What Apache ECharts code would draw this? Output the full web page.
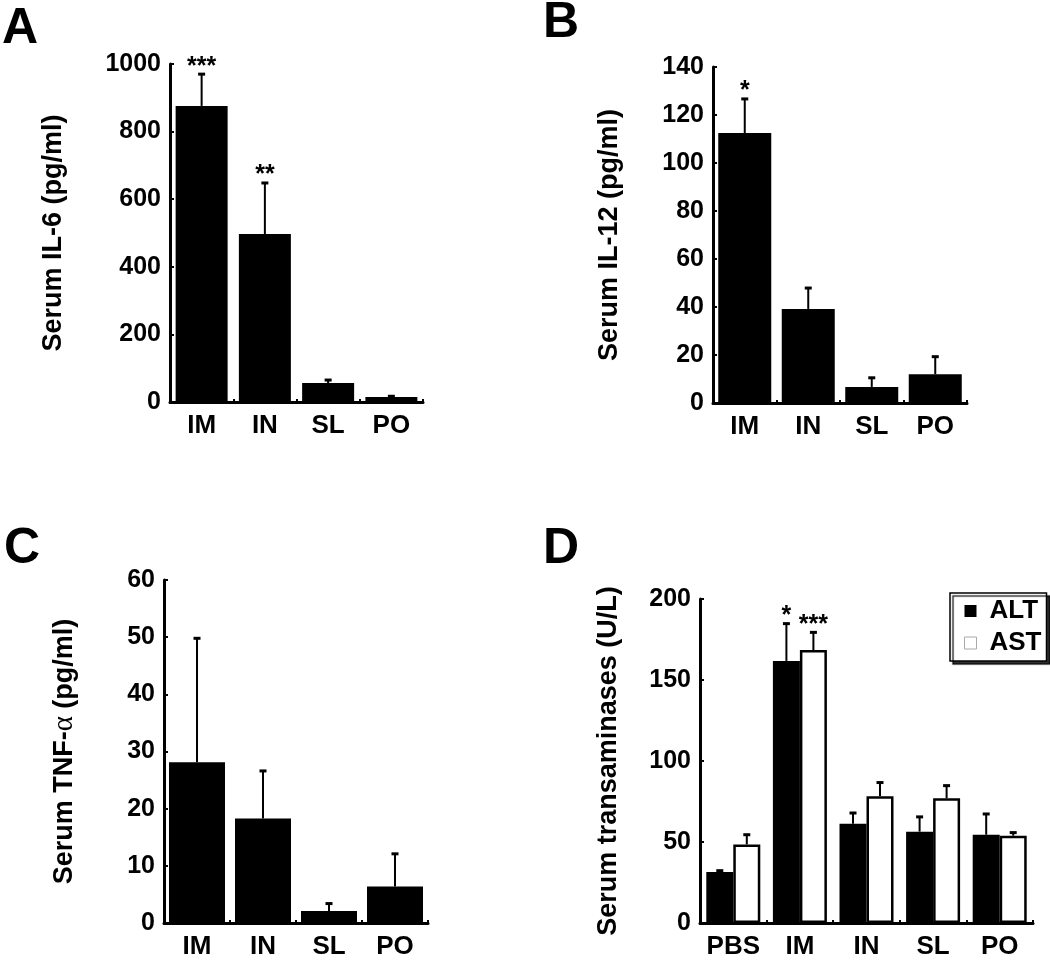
<!DOCTYPE html>
<html>
<head>
<meta charset="utf-8">
<script src="https://cdn.jsdelivr.net/npm/echarts@6/dist/echarts.min.js"></script>
<style>html,body{margin:0;padding:0;background:#fff}#c{width:1050px;height:960px}</style>
</head>
<body>
<div id="c"></div>
<script>
// ---- data ----
const routeCats = ['IM', 'IN', 'SL', 'PO'];
const il6Mean = [876, 497, 56, 15];
const il6Err = [970, 648, 65, 17];
const il6Sig = ['***', '**', '', ''];

const il12Mean = [112.5, 39.2, 6.7, 12.0];
const il12Err = [126.7, 47.9, 10.5, 19.3];
const il12Sig = ['*', '', '', ''];

const tnfMean = [28.1, 18.3, 2.1, 6.4];
const tnfErr = [49.8, 26.6, 3.4, 12.1];
const tnfSig = ['', '', '', ''];

const transCats = ['PBS', 'IM', 'IN', 'SL', 'PO'];
const altMean = [31.5, 161.8, 61.2, 56.4, 54.5];
const altErr = [32.3, 184.8, 67.9, 65.5, 67.3];
const altSig = ['', '*', '', '', ''];
const astMean = [48.5, 168.5, 78.2, 77.0, 53.9];
const astErr = [54.5, 179.4, 86.7, 84.8, 55.8];
const astSig = ['', '***', '', '', ''];

// ---- styling helpers ----
const FONT = 'Liberation Sans';
const base = { fontFamily: FONT, fontWeight: 'bold', color: '#000' };

function xAx(gi, cats) {
  return {
    type: 'category', gridIndex: gi, data: cats,
    axisLine: { lineStyle: { color: '#000', width: 3 } },
    axisTick: { show: true, inside: true, length: 3, lineStyle: { color: '#000', width: 2 } },
    axisLabel: Object.assign({ fontSize: 26, margin: 11, interval: 0 }, base)
  };
}
function yAx(gi, max, interval, name, gap, rich) {
  return {
    type: 'value', gridIndex: gi, min: 0, max: max, interval: interval,
    name: name, nameLocation: 'middle', nameGap: gap,
    nameTextStyle: Object.assign({ fontSize: 27, rich: rich || {} }, base),
    axisLine: { show: true, lineStyle: { color: '#000', width: 3 } },
    axisTick: { show: true, inside: true, length: 4, lineStyle: { color: '#000', width: 2 } },
    minorTick: { show: true, splitNumber: 4, length: 2, lineStyle: { color: '#000', width: 1.5 } },
    splitLine: { show: false },
    axisLabel: Object.assign({ fontSize: 25, margin: 9, formatter: v => String(v) }, base)
  };
}
function bars(gi, data, extra) {
  return Object.assign({
    type: 'bar', xAxisIndex: gi, yAxisIndex: gi, data: data,
    itemStyle: { color: '#000' }, z: 2, barGap: '0%'
  }, extra);
}
function errs(gi, means, tops, sig, offset) {
  return {
    type: 'custom', xAxisIndex: gi, yAxisIndex: gi, z: 5,
    data: means.map((m, i) => [i, m, tops[i]]),
    renderItem: function (params, api) {
      const i = api.value(0);
      const p0 = api.coord([i, api.value(1)]);
      const p1 = api.coord([i, api.value(2)]);
      const x = p0[0] + offset;
      const ch = [
        { type: 'line', shape: { x1: x, y1: p0[1], x2: x, y2: p1[1] }, style: { stroke: '#000', lineWidth: 2 } },
        { type: 'line', shape: { x1: x - 3.5, y1: p1[1], x2: x + 3.5, y2: p1[1] }, style: { stroke: '#000', lineWidth: 3 } }
      ];
      const s = sig[params.dataIndex];
      if (s) {
        ch.push({ type: 'text', x: x, y: p1[1] + 5, style: { text: s, fill: '#000', font: 'bold 25px ' + FONT, align: 'center', verticalAlign: 'bottom' } });
      }
      return { type: 'group', children: ch };
    }
  };
}

const chart = echarts.init(document.getElementById('c'));
chart.setOption({
  backgroundColor: '#fff',
  animation: false,
  grid: [
    { left: 170, top: 64, width: 253, height: 338 },
    { left: 713, top: 67, width: 254, height: 336 },
    { left: 164, top: 580, width: 264, height: 348 },
    { left: 700, top: 599, width: 333, height: 330 }
  ],
  xAxis: [xAx(0, routeCats), xAx(1, routeCats), xAx(2, routeCats), xAx(3, transCats)],
  yAxis: [
    yAx(0, 1000, 200, 'Serum IL-6 (pg/ml)', 103),
    yAx(1, 140, 20, 'Serum IL-12 (pg/ml)', 90),
    yAx(2, 60, 10, 'Serum TNF-{a|α} (pg/ml)', 85, { a: { fontFamily: 'Liberation Serif', fontSize: 29, fontWeight: 'normal', color: '#000' } }),
    yAx(3, 200, 50, 'Serum transaminases (U/L)', 78)
  ],
  legend: {
    orient: 'vertical', left: 950, top: 593,
    data: [
      { name: 'ALT', itemStyle: { color: '#000', borderWidth: 0 } },
      { name: 'AST', itemStyle: { color: '#fff', borderColor: '#aaa', borderWidth: 1 } }
    ],
    icon: 'rect', itemWidth: 12, itemHeight: 12, itemGap: 6,
    padding: [5, 5, 5, 14],
    backgroundColor: '#fff', borderColor: '#000', borderWidth: 1.5,
    shadowColor: 'rgba(0,0,0,0.8)', shadowBlur: 1, shadowOffsetX: 3, shadowOffsetY: 3,
    textStyle: Object.assign({ fontSize: 26, padding: [0, 0, 0, 8] }, base)
  },
  graphic: [
    { type: 'text', left: 2, top: 4, style: { text: 'A', font: 'bold 50px ' + FONT, fill: '#000' } },
    { type: 'text', left: 543, top: -2, style: { text: 'B', font: 'bold 50px ' + FONT, fill: '#000' } },
    { type: 'text', left: 4, top: 524, style: { text: 'C', font: 'bold 50px ' + FONT, fill: '#000' } },
    { type: 'text', left: 543, top: 524, style: { text: 'D', font: 'bold 50px ' + FONT, fill: '#000' } }
  ],
  series: [
    bars(0, il6Mean, { barWidth: 52 }),
    errs(0, il6Mean, il6Err, il6Sig, 0),
    bars(1, il12Mean, { barWidth: 53 }),
    errs(1, il12Mean, il12Err, il12Sig, 0),
    bars(2, tnfMean, { barWidth: 56 }),
    errs(2, tnfMean, tnfErr, tnfSig, 0),
    bars(3, altMean, { name: 'ALT', barWidth: 27 }),
    bars(3, astMean, { name: 'AST', barWidth: 27, itemStyle: { color: '#fff', borderColor: '#000', borderWidth: 2.5 } }),
    errs(3, altMean, altErr, altSig, -13.5),
    errs(3, astMean, astErr, astSig, 13.5)
  ]
});
</script>
</body>
</html>
